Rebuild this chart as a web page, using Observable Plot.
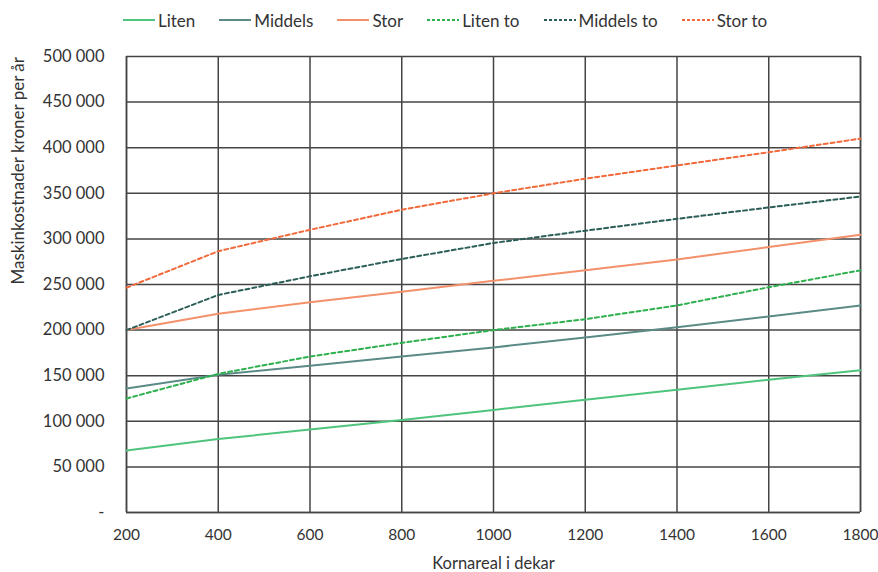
<!DOCTYPE html>
<html><head><meta charset="utf-8">
<script src="https://cdn.jsdelivr.net/npm/d3@7"></script>
<script src="https://cdn.jsdelivr.net/npm/@observablehq/plot@0.6"></script>
<style>
body{margin:0;background:#fff;font-family:Lato,"Open Sans",sans-serif;overflow:hidden;}
#legend{height:40px;display:flex;justify-content:center;align-items:center;gap:24px;font-size:17px;color:#333;padding-left:12px;}
.item{display:flex;align-items:center;gap:3px;}
</style></head>
<body>
<div id="legend"></div>
<div id="chart"></div>
<script>
const areas = [200, 400, 600, 800, 1000, 1200, 1400, 1600, 1800];
const liten     = [68000, 80500, 91000, 101500, 112500, 123500, 134500, 145500, 156000];
const middels   = [136000, 151000, 161000, 171000, 181000, 192000, 203000, 215000, 227000];
const stor      = [200000, 218000, 230500, 242000, 254000, 265500, 277500, 291000, 304500];
const litenTo   = [125000, 152000, 171000, 186000, 200000, 212000, 227000, 247000, 265500];
const middelsTo = [200000, 238500, 259000, 278000, 295500, 309000, 322000, 334500, 346500];
const storTo    = [246500, 286500, 310000, 332000, 350000, 366000, 380500, 395000, 410000];
const seriesNames = ["Liten", "Middels", "Stor", "Liten to", "Middels to", "Stor to"];
const seriesValues = [liten, middels, stor, litenTo, middelsTo, storTo];
const colors = ["#4fc47c", "#5b8b87", "#f2916b", "#2eb04f", "#2c5e58", "#f26a3c"];
const dashed = [false, false, false, true, true, true];
const yTicks = [0, 50000, 100000, 150000, 200000, 250000, 300000, 350000, 400000, 450000, 500000];

const data = seriesNames.flatMap((name, i) => areas.map((a, j) => ({area: a, cost: seriesValues[i][j], series: name})));

const fmt = v => v === 0 ? "-" : d3.format(",")(v).replace(/,/g, "\u00a0");

const lg = document.getElementById("legend");
seriesNames.forEach((n, i) => {
  const d = document.createElement("div"); d.className = "item";
  d.innerHTML = `<svg width="32" height="10"><line x1="0" x2="32" y1="5" y2="5" stroke="${colors[i]}" stroke-width="2" ${dashed[i] ? 'stroke-dasharray="3,2"' : ''}/></svg><span>${n}</span>`;
  lg.appendChild(d);
});

const marks = [
  Plot.gridY(yTicks, {stroke: "#444", strokeOpacity: 1, strokeWidth: 1.5}),
  Plot.gridX(areas, {stroke: "#444", strokeOpacity: 1, strokeWidth: 1.5}),
  Plot.ruleY([0], {stroke: "#444", strokeWidth: 1.5}),
  Plot.ruleX([200, 1800], {stroke: "#444", strokeWidth: 1.5}),
];
seriesNames.forEach((n, i) => {
  marks.push(Plot.line(data.filter(d => d.series === n), {
    x: "area", y: "cost", stroke: colors[i], strokeWidth: 2,
    strokeDasharray: dashed[i] ? "4,3" : null
  }));
});
marks.push(Plot.axisY(yTicks, {tickFormat: fmt, tickSize: 0, tickPadding: 22, fontSize: 16.5, fill: "#333", label: null}));
marks.push(Plot.axisX(areas, {tickFormat: d => String(d), tickSize: 0, tickPadding: 16, fontSize: 15.5, fill: "#333", label: null}));
marks.push(Plot.text(["Kornareal i dekar"], {frameAnchor: "bottom", dy: 56, fontSize: 16.5, fill: "#333"}));
marks.push(Plot.text(["Maskinkostnader kroner per år"], {frameAnchor: "left", dx: -108, rotate: -90, fontSize: 17, fill: "#333"}));

const chart = Plot.plot({
  width: 878, height: 532,
  marginLeft: 126, marginRight: 18, marginTop: 16, marginBottom: 60,
  x: {domain: [200, 1800]},
  y: {domain: [0, 500000]},
  style: {fontFamily: "Lato, 'Open Sans', sans-serif", fontSize: "16px", overflow: "visible"},
  marks
});
document.getElementById("chart").appendChild(chart);
</script>
</body></html>
